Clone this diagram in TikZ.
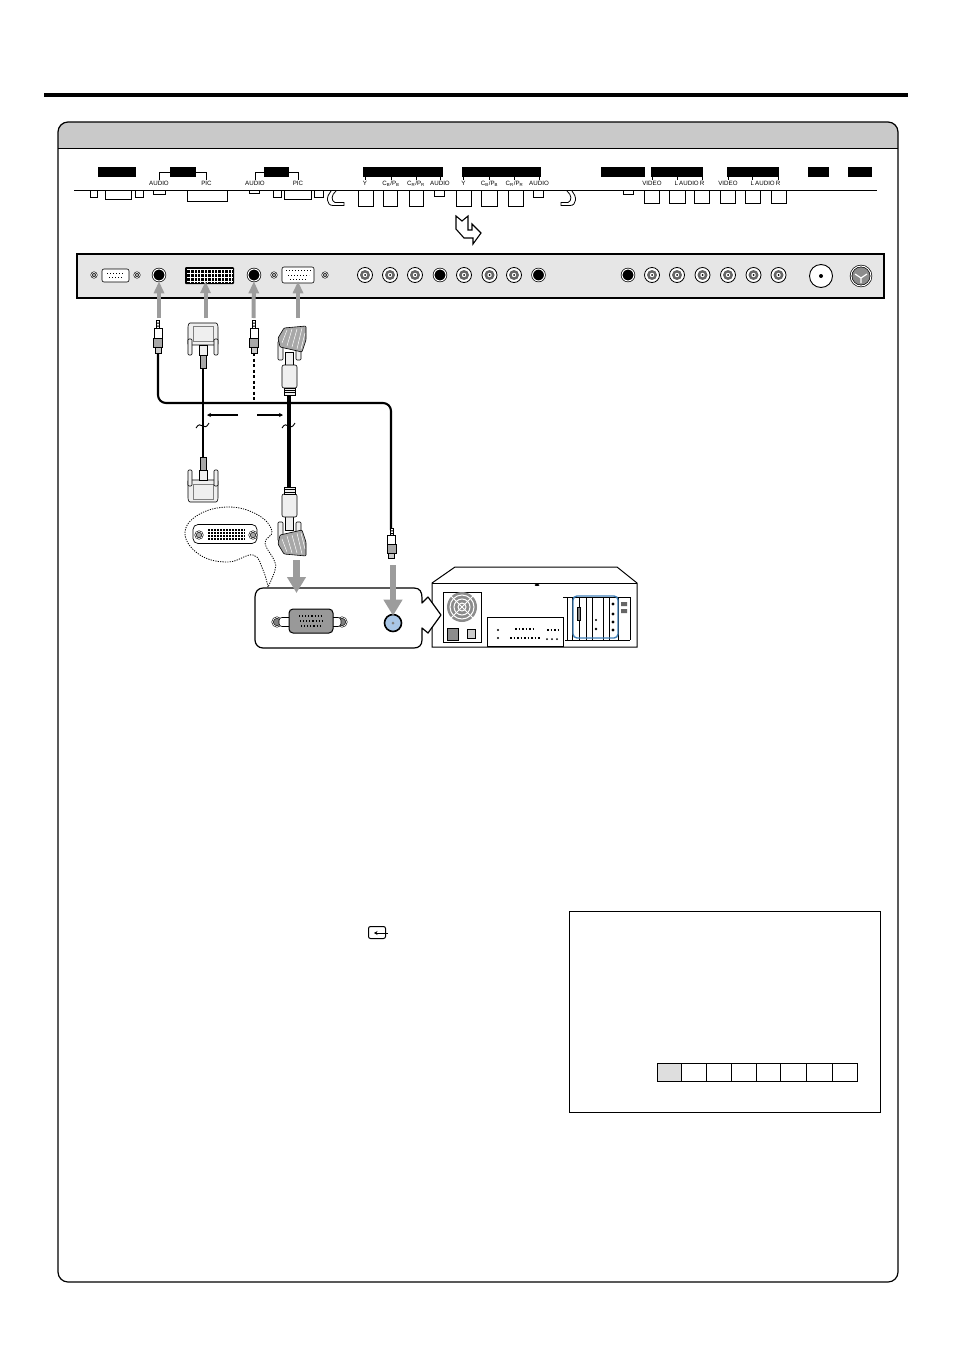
\documentclass[tikz,border=0pt]{standalone}
\usepackage{fontspec}
\setmainfont{Liberation Sans}
\usetikzlibrary{arrows.meta}
\definecolor{panelgray}{HTML}{E6E6E6}
\definecolor{bandgray}{HTML}{C9C9C9}
\definecolor{arrowgray}{HTML}{9C9C9C}
\definecolor{plugwhite}{HTML}{EFEFEF}
\definecolor{plugdark}{HTML}{A8A8A8}
\definecolor{slotblue}{HTML}{3F7FB8}
\definecolor{jackblue}{HTML}{A9C6E6}
\tikzset{
  blackbar/.style={fill=black,inner sep=0pt,minimum height=10pt},
  stub/.style={draw,line width=.8pt},
  tick/.style={line width=.4pt},
  smalltext/.style={font=\fontsize{6.2}{7}\selectfont,inner sep=0pt},
  rcajack/.style={circle,draw,line width=.8pt,fill=white,inner sep=0pt,minimum size=15pt,
    path picture={\fill[black!60] (path picture bounding box.center) circle (5pt);
      \fill[white] (path picture bounding box.center) circle (2.2pt);
      \fill[black] (path picture bounding box.center) circle (1pt);}},
  blackjack/.style={circle,draw,line width=.7pt,fill=black,double=white,double distance=1pt,
    inner sep=0pt,minimum size=12pt},
  screw/.style={circle,draw,line width=.6pt,fill=black!35,double=white,double distance=.7pt,
    inner sep=0pt,minimum size=5pt},
  dsub/.style={draw,line width=.6pt,fill=white,rounded corners=2pt,inner sep=0pt},
  uparrow/.style={arrowgray,line width=4pt,-{Triangle[length=12pt,width=10pt]}},
  downarrow/.style={arrowgray,line width=6.5pt,-{Triangle[length=16pt,width=18pt]}},
  cable/.style={line width=2.1pt,line join=round},
  cell/.style={draw,line width=.8pt,inner sep=0pt,minimum height=18pt},
  pics/audioplug/.style={code={
    \draw[line width=.5pt,fill=white] (-1.4,0) rectangle (1.4,8);
    \fill[black] (-1.4,2.5) rectangle (1.4,3.5) (-1.4,5.5) rectangle (1.4,6.5);
    \draw[line width=.6pt,fill=white] (-4.2,8) rectangle (4.2,18);
    \draw[line width=.6pt,fill=plugdark] (-4.4,18) rectangle (4.4,27);
    \draw[line width=.6pt,fill=plugdark!60] (-2.8,27) rectangle (2.8,33);
  }},
  pics/dviplug/.style={code={
    \draw[line width=.6pt,fill=plugwhite,rounded corners=1pt] (-14,0) -- (14,0) -- (15,3) -- (15,22) -- (-15,22) -- (-15,3) -- cycle;
    \draw[line width=.4pt,black!50] (-10,3) rectangle (10,18);
    \draw[line width=.6pt,fill=plugwhite,rounded corners=1pt] (-15,16) rectangle (-11,32);
    \draw[line width=.6pt,fill=plugwhite,rounded corners=1pt] (11,16) rectangle (15,32);
    \draw[line width=.6pt,fill=plugwhite] (-4,22) rectangle (4,32);
    \draw[line width=.6pt,fill=plugdark] (-3,32) rectangle (3,45);
  }},
  pics/vgaplug/.style={code={
    \draw[line width=.6pt,fill=plugwhite,rounded corners=1pt] (-11,16) rectangle (-6,35);
    \draw[line width=.6pt,fill=plugwhite,rounded corners=1pt] (7,16) rectangle (12,35);
    \draw[line width=.6pt,fill=plugdark,rounded corners=1pt] (-5,3) -- (17,1) -- (17,15) -- (13,27) -- (-9,22) -- (-11,13) -- cycle;
    \draw[line width=.5pt,white] (-2,5) -- (-7,18) (3,4) -- (-2,21) (8,4) -- (3,22) (13,3) -- (8,24) (16,8) -- (12,24);
    \draw[line width=.6pt,fill=plugwhite] (-3.5,27) rectangle (4.5,41);
    \draw[line width=.6pt,fill=plugwhite,rounded corners=2pt] (-7,40) rectangle (8,63);
    \draw[line width=.6pt,fill=plugwhite] (-5,63) rectangle (6,70);
    \draw[line width=.4pt] (-5,65) -- (6,65) (-5,67.5) -- (6,67.5);
  }}
}
\begin{document}
\begin{tikzpicture}[x=1pt,y=-1pt,color=black]
\useasboundingbox (0,0) rectangle (954,1349);
\node(toprule) [fill,inner sep=0pt,minimum width=864pt,minimum height=3.5pt] at (476,95) {};

% frame with title band
\fill[bandgray] (58,148) {[rounded corners=10pt] -- (58,122) -- (898,122)} -- (898,148) -- cycle;
\draw[line width=1.2pt,rounded corners=10pt] (58,122) rectangle (898,1282);
\draw[line width=.8pt] (58,148) -- (898,148);

% bars above the labels
\node(barA) [blackbar,minimum width=38pt] at (117,172) {};
\node(barB) [blackbar,minimum width=26pt] at (183,172) {};
\node(barC) [blackbar,minimum width=25pt] at (276.5,172) {};
\node(barD) [blackbar,minimum width=80pt] at (403,172) {};
\node(barE) [blackbar,minimum width=79pt] at (501.5,172) {};
\node(barF) [blackbar,minimum width=44pt] at (623,172) {};
\node(barG) [blackbar,minimum width=52pt] at (677,172) {};
\node(barH) [blackbar,minimum width=52pt] at (753,172) {};
\node(barI) [blackbar,minimum width=21pt] at (818.5,172) {};
\node(barJ) [blackbar,minimum width=24pt] at (860,172) {};
\draw[line width=.5pt] (159,180) |- (barB.west);
\draw[line width=.5pt] (206.5,180) |- (barB.east);
\draw[line width=.5pt] (255,180) |- (barC.west);
\draw[line width=.5pt] (298,180) |- (barC.east);

\node(lblA) [smalltext] at (159,183.5) {AUDIO};
\node(lblB) [smalltext] at (206.5,183.5) {PIC};
\node(lblC) [smalltext] at (255,183.5) {AUDIO};
\node(lblD) [smalltext] at (298,183.5) {PIC};
\node(lblE) [smalltext] at (365,183.5) {Y};
\node(lblF) [smalltext] at (391,183.5) {C\textsubscript{B}/P\textsubscript{B}};
\node(lblG) [smalltext] at (416,183.5) {C\textsubscript{R}/P\textsubscript{R}};
\node(lblH) [smalltext] at (440,183.5) {AUDIO};
\node(lblI) [smalltext] at (463.5,183.5) {Y};
\node(lblJ) [smalltext] at (489.5,183.5) {C\textsubscript{B}/P\textsubscript{B}};
\node(lblK) [smalltext] at (514.5,183.5) {C\textsubscript{R}/P\textsubscript{R}};
\node(lblL) [smalltext] at (539,183.5) {AUDIO};
\node(lblM) [smalltext] at (652,183.5) {VIDEO};
\node(lblN) [smalltext] at (689.5,183.5) {L\,AUDIO\,R};
\node(lblO) [smalltext] at (728,183.5) {VIDEO};
\node(lblP) [smalltext] at (765.5,183.5) {L\,AUDIO\,R};

% small ticks from the bars to the labels
\draw[tick] (365,177) -- (365,180) (391,177) -- (391,180) (416,177) -- (416,180) (440,177) -- (440,180);
\draw[tick] (463.5,177) -- (463.5,180) (489.5,177) -- (489.5,180) (514.5,177) -- (514.5,180) (539,177) -- (539,180);
\draw[tick] (652,177) -- (652,180) (677,177) -- (677,180) (702,177) -- (702,180);
\draw[tick] (728,177) -- (728,180) (752,177) -- (752,180) (778,177) -- (778,180);

% outline of the set below the labels
\draw[stub] (90,190) rectangle (97,197);
\draw[stub] (105,190) rectangle (131,199);
\draw[stub] (135,190) rectangle (143,197);
\draw[stub] (153,190) rectangle (165,194);
\draw[stub] (187,190) rectangle (227,201);
\draw[stub] (249,190) rectangle (259,193.5);
\draw[stub] (273,190) rectangle (281,197);
\draw[stub] (284,190) rectangle (311,199);
\draw[stub] (314,190) rectangle (323,197);
\draw[stub] (331,191) .. controls (326,196) and (326,205.5) .. (333,205.5) -- (344,205.5) -- (344,202.5) -- (335,202.5) .. controls (331,201) and (331,195) .. (336,191);
\draw[stub] (358,190) rectangle (373,206);
\draw[stub] (383,190) rectangle (397,206);
\draw[stub] (409,190) rectangle (423,206);
\draw[stub] (434,190) rectangle (444,196);
\draw[stub] (456,190) rectangle (471,206);
\draw[stub] (481,190) rectangle (497,206);
\draw[stub] (508,190) rectangle (523,206);
\draw[stub] (533,190) rectangle (543,197);
\draw[stub] (572,191) .. controls (577,196) and (577,205.5) .. (570,205.5) -- (561,205.5) -- (561,202.5) -- (568,202.5) .. controls (572,201) and (572,195) .. (567,191);
\draw[stub] (623,190) rectangle (633,194);
\draw[stub] (644,190) rectangle (659,203);
\draw[stub] (669,190) rectangle (685,203);
\draw[stub] (694,190) rectangle (709,203);
\draw[stub] (720,190) rectangle (735,203);
\draw[stub] (745,190) rectangle (760,203);
\draw[stub] (771,190) rectangle (786,203);
\draw[line width=1.7pt] (74,190.5) -- (877,190.5);

% hollow bent arrow
\draw[line width=1.1pt,fill=white,line join=miter] (456,216) -- (462,221) -- (468,216) -- (468,230) -- (472,230) -- (472,224) -- (481,233) -- (473,244) -- (473,238) -- (464,238) -- (456,229) -- cycle;

% terminal panel
\node(panel) [draw,line width=1.5pt,fill=panelgray,inner sep=0pt,minimum width=807pt,minimum height=44pt] at (480.5,276) {};
\node(scrA) [screw] at (94,275) {};
\node(rsPort) [dsub,minimum width=27pt,minimum height=13pt] at (115.5,275.5) {};
\draw[line width=1pt,dotted] (107,273.5) -- (124,273.5) (109,277.5) -- (122,277.5);
\node(scrB) [screw] at (137,275) {};
\node(jackA) [blackjack] at (159,275) {};
\node(dviPort) [fill=black,rounded corners=1pt,inner sep=0pt,minimum width=49pt,minimum height=17pt] at (209.5,275.5) {};
\draw[white,line width=.5pt,xstep=3.4pt,ystep=4.2pt] (187,268.5) grid (232.5,282.5);
\node(jackB) [blackjack] at (254,275) {};
\node(scrC) [screw] at (274,275) {};
\node(vgaPort) [dsub,minimum width=32pt,minimum height=16pt] at (298,275) {};
\draw[line width=1pt,dotted] (286,270.5) -- (311,270.5) (288,275) -- (309,275) (290,279.5) -- (307,279.5);
\node(scrD) [screw] at (325,275) {};
\node(jackC) [rcajack] at (365,275) {};
\node(jackD) [rcajack] at (390,275) {};
\node(jackE) [rcajack] at (415,275) {};
\node(jackF) [blackjack] at (440,275) {};
\node(jackG) [rcajack] at (464,275) {};
\node(jackH) [rcajack] at (489.5,275) {};
\node(jackI) [rcajack] at (514,275) {};
\node(jackJ) [blackjack] at (538.5,275) {};
\node(jackK) [blackjack] at (628,275) {};
\node(jackL) [rcajack] at (652,275) {};
\node(jackM) [rcajack] at (677,275) {};
\node(jackN) [rcajack] at (702.5,275) {};
\node(jackO) [rcajack] at (728,275) {};
\node(jackP) [rcajack] at (753.5,275) {};
\node(jackQ) [rcajack] at (778.5,275) {};
\node(antenna) [circle,draw,line width=.9pt,fill=white,inner sep=0pt,minimum size=23pt] at (821,276) {};
\fill (antenna.center) circle (2pt);
\node(svideo) [circle,draw,line width=.7pt,fill=black!45,double=white,double distance=1pt,inner sep=0pt,minimum size=20pt] at (861,276) {};
\draw[white,line width=1.2pt] (855,274) -- (861,278) -- (867,274) (861,278) -- (861,283);

% arrows up to the panel
\coordinate(upA) at (159,318);
\coordinate(upB) at (205.5,318);
\coordinate(upC) at (253.5,318);
\coordinate(upD) at (298,318);
\draw[uparrow] (upA) -- (jackA);
\draw[uparrow,shorten >=-3pt] (upB) -- (dviPort.south -| upB);
\draw[uparrow] (upC) -- (jackB);
\draw[uparrow,shorten >=-2pt] (upD) -- (vgaPort.south -| upD);

% cables
\coordinate(audioTop) at (158,353);
\coordinate(audioCornerA) at (158,403);
\coordinate(audioCornerB) at (391,403);
\coordinate(audioEnd) at (391,530);
\coordinate(dashTop) at (254,353);
\coordinate(dashEnd) at (254,403);
\coordinate(dviTop) at (203,368);
\coordinate(dviEnd) at (203,457);
\coordinate(vgaTop) at (289,395);
\coordinate(vgaEnd) at (289,487);
\draw[line width=1.6pt,dash pattern=on 3pt off 2.5pt] (dashTop) -- (dashEnd);
\draw[cable,rounded corners=8pt] (audioTop) -- (audioCornerA) -- (audioCornerB) -- (audioEnd);
\draw[line width=2.8pt] (dviTop) -- (dviEnd);
\draw[line width=4.2pt] (vgaTop) -- (vgaEnd);
\draw[line width=.9pt] (196,428) .. controls (201,419) and (204,433) .. (209,423);
\draw[line width=.9pt] (282,428) .. controls (287,419) and (290,433) .. (295,423);

% distance arrows
\coordinate(spanL) at (238,415);
\coordinate(spanLtip) at (207,415);
\coordinate(spanR) at (257,415);
\coordinate(spanRtip) at (283,415);
\draw[line width=1.4pt,-{Stealth[length=4pt,width=4pt]}] (spanL) -- (spanLtip);
\draw[line width=1.4pt,-{Stealth[length=4pt,width=4pt]}] (spanR) -- (spanRtip);

% plugs
\pic at (158,320) {audioplug};
\pic at (254,320) {audioplug};
\pic[yscale=.93] at (391.5,528) {audioplug};
\pic at (203,323) {dviplug};
\pic[yscale=-1] at (203,502) {dviplug};
\pic at (289,325) {vgaplug};
\pic[yscale=-1] at (289,557) {vgaplug};

% dotted bubble with DVI socket
\draw[line width=.8pt,dash pattern=on 1.2pt off 1.2pt] plot [smooth,tension=.7] coordinates {(268,587) (263,570) (253,555) (228,562) (200,555) (185,534) (198,515) (229,507) (258,515) (272,531) (265,543) (274,560) (275,570) (268,587)};
\node(bubblePlate) [draw,line width=.7pt,fill=white,rounded corners=5pt,inner sep=0pt,minimum width=64pt,minimum height=19pt] at (225,534) {};
\node(bubbleDvi) [fill=black,inner sep=0pt,minimum width=38pt,minimum height=12pt] at (226,534.5) {};
\draw[white,line width=.4pt,xstep=3pt,ystep=3pt] (207,528.5) grid (245,540.5);
\node(bubbleScrA) [screw,minimum size=7pt] at (199,535) {};
\node(bubbleScrB) [screw,minimum size=7pt] at (253,535) {};

% computer
\draw[line width=1pt,fill=white] (432,647) -- (432,583) -- (455,567) -- (617,567) -- (637,583) -- (637,647) -- cycle;
\draw[line width=.5pt] (432,583) -- (637,583);
\fill (537,585) ellipse (2.5pt and 1pt);
\draw[line width=.5pt] (443,592) -- (481,592) -- (481,642) -- (443,642) -- cycle;
\fill[black!45] (462,607) circle (15pt);
\draw[white,line width=1pt] (462,607) circle (12pt) (462,607) circle (8pt) (462,607) circle (4pt);
\draw[white,line width=1pt] (451,596) -- (473,618) (451,618) -- (473,596);
\node(mains) [draw,line width=.5pt,fill=black!45,inner sep=0pt,minimum width=11pt,minimum height=12pt] at (452.5,634) {};
\node(switch) [draw,line width=.5pt,fill=black!20,inner sep=0pt,minimum width=8pt,minimum height=9pt] at (471,633.5) {};
\draw[line width=.5pt] (487,646) -- (487,617) -- (563,617) -- (563,646) -- cycle;
\draw[line width=1.5pt,dotted] (515,629) -- (536,629) (510,638) -- (540,638) (547,630) -- (559,630);
\fill (498,630) circle (1.2pt) (498,638) circle (1.2pt) (547,639) circle (1pt) (552,639) circle (1pt) (557,639) circle (1pt);
\draw[line width=.4pt] (563,597) -- (630,597) (630,597) -- (630,640);
\draw[line width=.5pt] (567,597) -- (567,640) (572,597) -- (572,640) (579,597) -- (579,640) (586,597) -- (586,640) (592,597) -- (592,640) (603,597) -- (603,640) (609,597) -- (609,640) (618,597) -- (618,640);
\draw[line width=.4pt] (565,640) -- (630,640);
\draw[line width=.6pt,fill=black!50] (577,607) rectangle (580,620);
\fill (596,620) circle (1.2pt) (596,629) circle (1.4pt) (613,604) circle (1.6pt) (613,614) circle (1.6pt) (613,622) circle (1.6pt) (613,630) circle (1.6pt);
\fill[black!60] (621,602) rectangle (627,606) (621,609) rectangle (627,613);
\draw[slotblue,line width=1.4pt,rounded corners=4pt] (573,596) rectangle (618,638);

% rounded box pointing at the computer
\draw[line width=1.2pt,fill=white,line join=round] (263,588) -- (414,588) .. controls (420,588) and (422,592) .. (422,598) -- (422,603) -- (428,597) -- (441,615) -- (428,633) -- (422,628) -- (422,640) .. controls (422,645) and (419,648) .. (414,648) -- (263,648) .. controls (258,648) and (255,644) .. (255,640) -- (255,597) .. controls (255,592) and (258,588) .. (263,588) -- cycle;
\node(sockScrA) [screw,minimum size=9pt,fill=black!50] at (277,622) {};
\node(sockScrB) [screw,minimum size=9pt,fill=black!50] at (342,622) {};
\node(sockPlate) [draw,line width=.6pt,fill=white,rounded corners=3pt,inner sep=0pt,minimum width=62pt,minimum height=9pt] at (310,622) {};
\node(vgaSock) [draw,line width=1pt,fill=black!40,rounded corners=4pt,inner sep=0pt,minimum width=44pt,minimum height=24pt] at (311,621) {};
\draw[line width=1.1pt,dotted] (299,616) -- (323,616) (300,621) -- (322,621) (301,626) -- (321,626);
\node(pcJack) [circle,draw,line width=1.6pt,fill=jackblue,inner sep=0pt,minimum size=17pt] at (393,623) {};
\fill[black!50] (393,623) circle (1.5pt);

% arrows down to the computer
\coordinate(downA) at (296.5,560);
\coordinate(downAtip) at (296.5,593);
\coordinate(downB) at (393,565);
\draw[downarrow] (downA) -- (downAtip);
\draw[downarrow,shorten >=-2pt] (downB) -- (pcJack);

% input key
\node(inputkey) [draw,line width=1pt,rounded corners=2pt,inner sep=0pt,minimum width=17pt,minimum height=12pt] at (377,932.5) {};
\coordinate(inputkeyEnd) at (388,933);
\coordinate(inputkeyTip) at (374,933);
\draw[line width=.8pt,-{Stealth[length=3.5pt,width=4pt]}] (inputkeyEnd) -- (inputkeyTip);

% screen box
\node(screen) [draw,line width=1pt,inner sep=0pt,minimum width=311pt,minimum height=201pt] at (724.5,1011.5) {};
\node(cellA) [cell,fill=black!13,minimum width=24pt] at (669,1072) {};
\node(cellB) [cell,minimum width=25pt] at (693.5,1072) {};
\node(cellC) [cell,minimum width=25pt] at (718.5,1072) {};
\node(cellD) [cell,minimum width=25pt] at (743.5,1072) {};
\node(cellE) [cell,minimum width=24.5pt] at (768.2,1072) {};
\node(cellF) [cell,minimum width=25.5pt] at (793.2,1072) {};
\node(cellG) [cell,minimum width=26pt] at (819,1072) {};
\node(cellH) [cell,minimum width=25pt] at (844.5,1072) {};
\end{tikzpicture}
\end{document}
